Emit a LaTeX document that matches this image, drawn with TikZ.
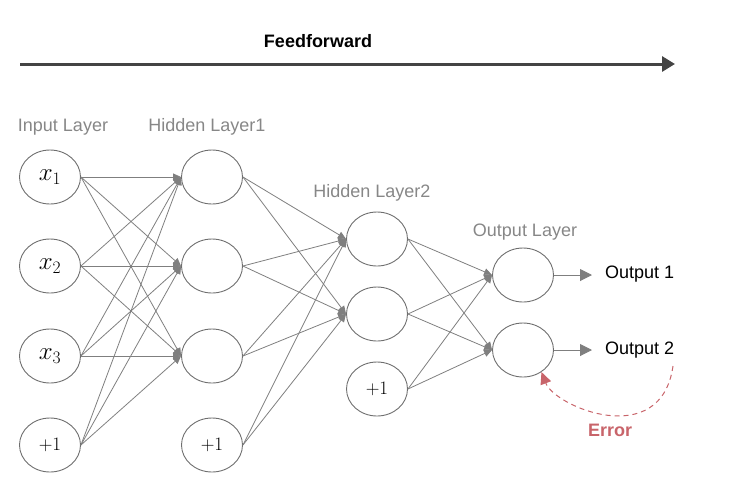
\RequirePackage{fix-cm}
\documentclass[tikz,border=0pt]{standalone}
\usepackage{fontspec}
\setmainfont{Liberation Sans}
\usetikzlibrary{shapes.geometric,arrows.meta}
\definecolor{edgegray}{HTML}{7F7F7F}
\definecolor{ringgray}{HTML}{6E6E6E}
\definecolor{labelgray}{HTML}{878787}
\definecolor{flowdark}{HTML}{444444}
\definecolor{errred}{HTML}{C8646A}
\tikzset{
  neuron/.style={ellipse, draw=ringgray, line width=0.9pt, minimum width=61pt, minimum height=54pt, inner sep=0pt, font=\fontsize{19}{23}\selectfont},
  input neuron/.style={neuron, font=\fontsize{25}{30}\selectfont},
  layer label/.style={text=labelgray, font=\fontsize{18}{21}\selectfont},
  synapse/.style={draw=edgegray, line width=0.8pt, -{Triangle[length=8pt,width=7pt]}},
  out arrow/.style={draw=edgegray, line width=1pt, shorten >=13pt, -{Triangle[length=12pt,width=12pt]}},
  err arrow/.style={draw=errred, line width=1pt, dash pattern=on 5pt off 4pt, -{Triangle[length=12pt,width=11pt]}},
}

\begin{document}
\begin{tikzpicture}[x=1pt, y=-1pt]
  \useasboundingbox (0,0) rectangle (736,488);
  % feedforward arrow
  \coordinate (ffa) at (20,64);  \coordinate (ffb) at (675,64);
  \draw[flowdark, line width=3pt, -{Triangle[length=13pt,width=15pt]}] (ffa) -- (ffb);
  \node[font=\bfseries\fontsize{18}{21}\selectfont] (fftext) at (318,41) {Feedforward};
  % layer labels
  \node[layer label] (lin)  at (63,127)  {Input Layer};
  \node[layer label] (lh1)  at (207,127) {Hidden Layer1};
  \node[layer label] (lh2)  at (372,193) {Hidden Layer2};
  \node[layer label] (lout) at (525,232) {Output Layer};
  % neurons
  \node[input neuron] (x1) at (50,177) {$x_1$};
  \node[input neuron] (x2) at (50,266) {$x_2$};
  \node[input neuron] (x3) at (50,356) {$x_3$};
  \node[neuron] (xb) at (50,445) {$+1$};
  \foreach \n/\y in {h1/177, h2/266, h3/356}{\node[neuron] (\n) at (212,\y) {};}
  \node[neuron] (hb) at (212,445) {$+1$};
  \node[neuron] (g1) at (377,239) {};
  \node[neuron] (g2) at (377,314) {};
  \node[neuron] (gb) at (377,389) {$+1$};
  \node[neuron] (o1) at (523,275) {};
  \node[neuron] (o2) at (523,350) {};
  % weights
  \foreach \s in {x1,x2,x3,xb}{\foreach \t in {h1,h2,h3}{\draw[synapse] (\s.east) -- (\t.west);}}
  \foreach \s in {h1,h2,h3,hb}{\foreach \t in {g1,g2}{\draw[synapse] (\s.east) -- (\t.west);}}
  \foreach \s in {g1,g2,gb}{\foreach \t in {o1,o2}{\draw[synapse] (\s.east) -- (\t.west);}}
  % outputs
  \node[anchor=west, inner sep=0pt, font=\fontsize{18}{21}\selectfont] (out1) at (605,274) {Output 1};
  \node[anchor=west, inner sep=0pt, font=\fontsize{18}{21}\selectfont] (out2) at (605,350) {Output 2};
  \draw[out arrow] (o1.east) -- (out1.west |- o1.east);
  \draw[out arrow] (o2.east) -- (out2.west);
  % error feedback
  \coordinate (errstart) at (673,366);
  \draw[err arrow] (errstart) .. controls (661,451) and (555,407) .. (o2.-50);
  \node[text=errred, font=\bfseries\fontsize{18}{21}\selectfont] (errtext) at (610,430) {Error};
\end{tikzpicture}
\end{document}
